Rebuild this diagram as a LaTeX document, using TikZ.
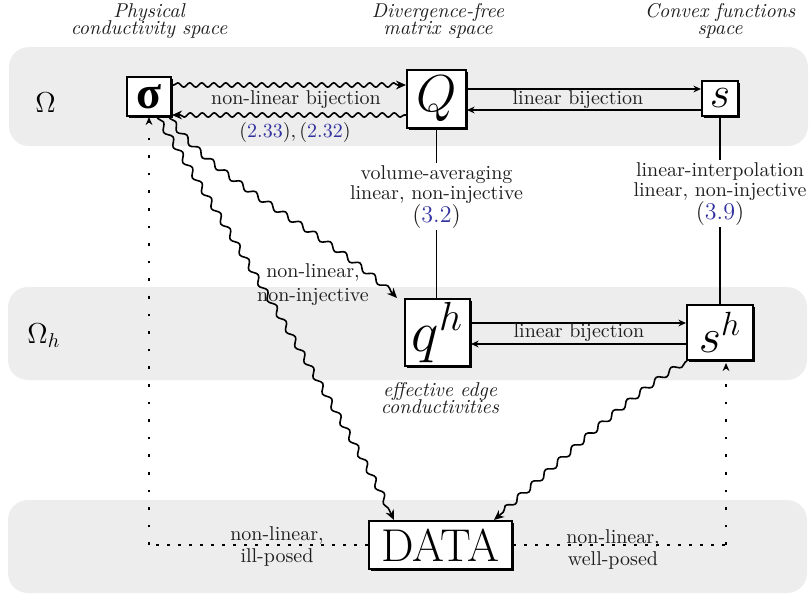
\RequirePackage{fix-cm}
\documentclass[tikz,border=0pt]{standalone}
\usepackage{amsmath}
\usepackage{fontspec}
\newfontfamily\sgfont{Liberation Serif}
\usetikzlibrary{decorations.pathmorphing,arrows.meta,shadows,calc}
\definecolor{bandgray}{HTML}{EDEDED}
\definecolor{refblue}{RGB}{50,50,160}
\definecolor{txt}{RGB}{30,30,30}
\begin{document}
\begin{tikzpicture}[x=0.5pt,y=-0.5pt,
 bx/.style={draw=black, line width=1pt, fill=white, inner sep=0pt,
   general shadow={fill=black, shadow xshift=1pt, shadow yshift=-1pt}},
 wav/.style={decorate, decoration={snake, amplitude=1.1pt, segment length=6pt, pre length=1pt, post length=4pt},
   line width=0.8pt, line join=round, -{Stealth[length=5pt,width=4.4pt]}},
 wavd/.style={decorate, decoration={snake, amplitude=1.4pt, segment length=9pt, pre length=1pt, post length=4pt},
   line width=0.8pt, line join=round, -{Stealth[length=5pt,width=4.4pt]}},
 lin/.style={line width=0.9pt, -{Stealth[length=3.8pt,width=3.4pt]}},
 hdot/.style={line width=0.8pt, dash pattern=on 1.3pt off 4.2pt},
 vdot/.style={line width=0.8pt, dash pattern=on 1.3pt off 7.5pt},
 lab/.style={text=txt, align=center, inner sep=1pt},
 head/.style={text=txt, font=\itshape, align=center, inner sep=0pt, anchor=north},
]
\useasboundingbox (0,0) rectangle (809,595);
% bands
\fill[bandgray, rounded corners=10pt] (9,47) rectangle (808,146);
\fill[bandgray, rounded corners=10pt] (8,287) rectangle (807,380);
\fill[bandgray, rounded corners=10pt] (8,500) rectangle (807,593);

% headings
\node[head] (h1) at (149,3) {Physical\\[-3.5pt]conductivity space};
\node[head] (h2) at (438,3) {Divergence-free\\[-3.5pt]matrix space};
\node[head] (h3) at (720,3) {Convex functions\\[-3.5pt]space};

% level names
\node[text=black, anchor=base west, inner sep=0pt] (om) at (35,112) {\Large$\Omega$};
\node[text=black, anchor=base west, inner sep=0pt] (omh) at (27,343) {\Large$\Omega_h$};

% boxes
\node[bx, minimum width=22pt, minimum height=19.5pt] (sig) at (149,96.5) {\fontsize{23}{25}\selectfont\sgfont\bfseries σ};
\node[bx, minimum width=29.5pt, minimum height=29pt] (Q) at (436.5,99) {\fontsize{26}{28}\selectfont$Q$};
\node[bx, minimum width=18pt, minimum height=17.5pt] (s) at (720,98.5) {\fontsize{22}{24}\selectfont$s$};
\node[bx, minimum width=32.5pt, minimum height=33.5pt] (qh) at (437.5,332.5) {\fontsize{29}{31}\selectfont$q^h$};
\node[bx, minimum width=33pt, minimum height=27.5pt] (sh) at (720,332.5) {\fontsize{24}{26}\selectfont$s^h$};
\node[bx, minimum width=71.5pt, minimum height=24pt] (data) at (440.5,545) {\fontsize{23}{25}\selectfont DATA};

% row coordinates
\coordinate (r1) at (0,85);
\coordinate (r2) at (0,115);
\coordinate (r3) at (0,89);
\coordinate (r4) at (0,110);
\coordinate (r5) at (0,323);
\coordinate (r6) at (0,344);

% sigma <-> Q
\draw[wav] (sig.east |- r1) -- (Q.west |- r1);
\draw[wav] (Q.west |- r2) -- (sig.east |- r2);
\node[lab] (l1) at (296,100) {non-linear bijection};
\node[lab] (l2) at (295,132) {$({\color{refblue}2.33}),({\color{refblue}2.32})$};

% Q <-> s
\draw[lin] (Q.east |- r3) -- (s.west |- r3);
\draw[lin] (s.west |- r4) -- (Q.east |- r4);
\node[lab] (l3) at (578,100) {linear bijection};

% qh <-> sh
\draw[lin] (qh.east |- r5) -- (sh.west |- r5);
\draw[lin] (sh.west |- r6) -- (qh.east |- r6);
\node[lab] (l4) at (579,333) {linear bijection};

% vertical links
\draw[line width=0.9pt] (Q.south) -- node[lab, fill=white, pos=0.4] (l5) {volume-averaging\\[-2pt]linear, non-injective\\[-0.5pt]{\large$(\textcolor{refblue}{3.2})$}} (Q.south |- qh.north);
\draw[line width=0.9pt] (s.south) -- node[lab, fill=white, pos=0.41] (l6) {linear-interpolation\\[-2pt]linear, non-injective\\[-0.5pt]{\large$(\textcolor{refblue}{3.9})$}} (s.south |- sh.north);

% diagonal wavy arrows
\draw[wavd] ([xshift=-1.5pt]sig.south east) to[out=-55, in=132, looseness=0.7] ([xshift=-3.5pt]qh.north west);
\node[lab] (l7) at (313,285) {non-linear,\\non-injective};
\draw[wavd] ([xshift=4pt]sig.south) to[out=-57, in=115, looseness=0.5] ([xshift=13pt]data.north west);
\draw[wavd] ([xshift=0.5pt]sh.south west) to[out=-150, in=40, looseness=0.7] ([xshift=-9.5pt]data.north east);

\node[head] (h4) at (440,382) {effective edge\\[-3.5pt]conductivities};

% dotted links
\coordinate (cL) at (sig.south |- data.west);
\draw[hdot] (data.west) -- (cL);
\draw[vdot, -{Stealth[length=4pt,width=3.4pt]}] (cL) -- (sig.south);
\coordinate (cR) at ([xshift=3pt]sh.south |- data.east);
\coordinate (shb) at ([xshift=3pt,yshift=-1pt]sh.south);
\draw[hdot] (data.east) -- (cR);
\draw[vdot, -{Stealth[length=4pt,width=3.4pt]}] (cR) -- (shb);
\node[lab] (l8) at (277,546) {non-linear,\\[-1pt]ill-posed};
\node[lab] (l9) at (613,549) {non-linear,\\[-1pt]well-posed};
\end{tikzpicture}
\end{document}
